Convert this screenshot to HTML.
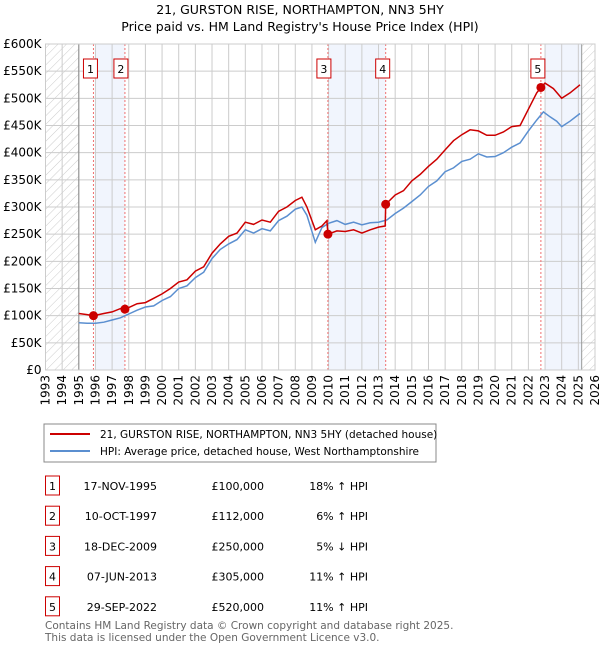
<!DOCTYPE html>
<html><head><meta charset="utf-8"><style>
body{margin:0;background:#fff;font-family:"DejaVu Sans","Liberation Sans",sans-serif;}
svg text{font-family:"DejaVu Sans","Liberation Sans",sans-serif;}
</style></head><body>
<svg id="c" width="600" height="650" xmlns="http://www.w3.org/2000/svg">
<defs><pattern id="hatch" width="6" height="6" patternUnits="userSpaceOnUse" patternTransform="rotate(45)"><line x1="0" y1="0" x2="0" y2="6" stroke="#ccc" stroke-width="1"/></pattern></defs>
<text x="300" y="14" text-anchor="middle" font-size="12.5" fill="#000">21, GURSTON RISE, NORTHAMPTON, NN3 5HY</text>
<text x="300" y="31" text-anchor="middle" font-size="12.5" fill="#000">Price paid vs. HM Land Registry's House Price Index (HPI)</text>
<g id="plot"></g>
<rect x="44" y="424" width="392" height="38" fill="#fff" stroke="#888"/>
<line x1="50" y1="434" x2="90" y2="434" stroke="#cc0000" stroke-width="2"/>
<text x="100" y="438" font-size="10.5">21, GURSTON RISE, NORTHAMPTON, NN3 5HY (detached house)</text>
<line x1="50" y1="451" x2="90" y2="451" stroke="#5b8fd0" stroke-width="2"/>
<text x="100" y="455" font-size="10.5">HPI: Average price, detached house, West Northamptonshire</text>
<g id="table"></g>
<text x="45" y="629" font-size="10.5" fill="#666">Contains HM Land Registry data © Crown copyright and database right 2025.</text>
<text x="45" y="641" font-size="10.5" fill="#666">This data is licensed under the Open Government Licence v3.0.</text>
</svg>
<script>
const yTicks=[0,50,100,150,200,250,300,350,400,450,500,550,600];
const yTickLabels=["£0","£50K","£100K","£150K","£200K","£250K","£300K","£350K","£400K","£450K","£500K","£550K","£600K"];
const xYears=[1993,1994,1995,1996,1997,1998,1999,2000,2001,2002,2003,2004,2005,2006,2007,2008,2009,2010,2011,2012,2013,2014,2015,2016,2017,2018,2019,2020,2021,2022,2023,2024,2025,2026];
const hpiX=[1995,1995.5,1996,1996.5,1997,1997.5,1998,1998.5,1999,1999.5,2000,2000.5,2001,2001.5,2002,2002.5,2003,2003.5,2004,2004.5,2005,2005.5,2006,2006.5,2007,2007.5,2008,2008.4,2008.7,2009.2,2009.6,2010,2010.5,2011,2011.5,2012,2012.5,2013,2013.5,2014,2014.5,2015,2015.5,2016,2016.5,2017,2017.5,2018,2018.5,2019,2019.5,2020,2020.5,2021,2021.5,2022,2022.5,2022.9,2023.3,2023.7,2024,2024.5,2025.1];
const hpiV=[87,86,86,88,92,96,103,110,116,118,128,135,150,155,170,180,205,222,232,240,258,252,260,256,275,283,296,300,285,235,262,270,275,268,272,267,271,272,276,288,298,310,322,338,348,365,372,384,388,398,392,393,400,410,418,440,460,475,466,458,448,458,472];
const ppX=[1995,1995.5,1995.88,1996.5,1997,1997.5,1997.77,1998,1998.5,1999,1999.5,2000,2000.5,2001,2001.5,2002,2002.5,2003,2003.5,2004,2004.5,2005,2005.5,2006,2006.5,2007,2007.5,2008,2008.4,2008.7,2009.2,2009.6,2009.9,2009.96,2010.5,2011,2011.5,2012,2012.5,2013,2013.4,2013.43,2014,2014.5,2015,2015.5,2016,2016.5,2017,2017.5,2018,2018.5,2019,2019.5,2020,2020.5,2021,2021.5,2022,2022.5,2022.75,2023,2023.5,2024,2024.5,2025.1];
const ppV=[104,102,100,104,107,113,112,115,122,124,132,140,150,162,166,182,190,215,232,246,252,272,268,276,272,292,300,312,318,300,258,265,275,250,256,255,258,252,258,263,265,305,322,330,348,360,375,388,405,422,433,442,440,432,432,438,448,450,480,510,520,528,518,500,510,525];
const saleX=[1995.88,1997.77,2009.96,2013.43,2022.75];
const saleV=[100,112,250,305,520];
const saleLabels=["1","2","3","4","5"];
const rowDates=["17-NOV-1995","10-OCT-1997","18-DEC-2009","07-JUN-2013","29-SEP-2022"];
const rowPrices=["£100,000","£112,000","£250,000","£305,000","£520,000"];
const rowHpi=["18% ↑ HPI","6% ↑ HPI","5% ↓ HPI","11% ↑ HPI","11% ↑ HPI"];
const X0=45.5,X1=595,Y0=370,Y1=44;
const sx=y=>X0+(y-1993)/(2026-1993)*(X1-X0);
const sy=v=>Y0-v/600*(Y0-Y1);
const NS="http://www.w3.org/2000/svg";
const plot=document.getElementById('plot');
function mk(tag,attrs,parent){const e=document.createElementNS(NS,tag);for(const k in attrs)e.setAttribute(k,attrs[k]);(parent||plot).appendChild(e);return e;}
let e=mk('rect',{x:X0,y:Y1,width:sx(1995)-X0,height:Y0-Y1,fill:'url(#hatch)'});


e=mk('rect',{x:sx(2025.2),y:Y1,width:X1-sx(2025.2),height:Y0-Y1,fill:'url(#hatch)'});


const shades=[[1996,1997.77],[2010,2013.43],[2023,2025.2]];
shades.forEach((s,i)=>{const r=mk('rect',{x:sx(s[0]),y:Y1,width:sx(s[1])-sx(s[0]),height:Y0-Y1,fill:'#eef3fc',opacity:0.8});

});
yTicks.forEach((t,i)=>{const l=mk('line',{x1:X0,x2:X1,y1:sy(t),y2:sy(t),stroke:'#ccc'});


const tx=mk('text',{x:X0-4,y:sy(t)+4,'text-anchor':'end','font-size':'12'});tx.textContent=yTickLabels[i];

});
xYears.forEach(yr=>{const l=mk('line',{x1:sx(yr),x2:sx(yr),y1:Y1,y2:Y0,stroke:'#ccc'});


const tx=mk('text',{x:0,y:0,'text-anchor':'end','font-size':'12',transform:`translate(${sx(yr)+4},${Y0+5}) rotate(-90)`});tx.textContent=yr;

});
e=mk('line',{x1:sx(1995),x2:sx(1995),y1:Y1,y2:Y0,stroke:'#888'});


e=mk('line',{x1:sx(2025.2),x2:sx(2025.2),y1:Y1,y2:Y0,stroke:'#999'});


saleX.forEach((sxv,i)=>{const l=mk('line',{x1:sx(sxv),x2:sx(sxv),y1:Y1,y2:Y0,stroke:'#f07070','stroke-dasharray':'2,2'});

});
const pts=(xs,vs)=>xs.map((x,i)=>sx(x).toFixed(1)+','+sy(vs[i]).toFixed(1)).join(' ');
e=mk('polyline',{points:pts(hpiX,hpiV),fill:'none',stroke:'#5b8fd0','stroke-width':1.5});


e=mk('polyline',{points:pts(ppX,ppV),fill:'none',stroke:'#cc0000','stroke-width':1.5});


const boxOffsets=[-3,-4,-4,-3,-3];
saleX.forEach((sxv,i)=>{const c=mk('circle',{cx:sx(sxv),cy:sy(saleV[i]),r:4.5,fill:'#cc0000'});


const b=mk('rect',{x:sx(sxv)-7+boxOffsets[i],y:59,width:14,height:19,fill:'#fff',stroke:'#cc0000'});


const t=mk('text',{x:sx(sxv)+boxOffsets[i],y:73,'text-anchor':'middle','font-size':'11'});t.textContent=saleLabels[i];

});
e=mk('rect',{x:X0,y:Y1,width:X1-X0,height:Y0-Y1,fill:'none',stroke:'#ccc'});


const tbl=document.getElementById('table');
rowDates.forEach((d,i)=>{const y=486+i*30.2;
const b=mk('rect',{x:45.5,y:y-10,width:14,height:19,fill:'#fff',stroke:'#cc0000'},tbl);


let t=mk('text',{x:52.5,y:y+4,'text-anchor':'middle','font-size':'11'},tbl);t.textContent=saleLabels[i];


t=mk('text',{x:157,y:y+4,'text-anchor':'end','font-size':'11'},tbl);t.textContent=d;


t=mk('text',{x:264,y:y+4,'text-anchor':'end','font-size':'11'},tbl);t.textContent=rowPrices[i];


t=mk('text',{x:368,y:y+4,'text-anchor':'end','font-size':'11'},tbl);t.textContent=rowHpi[i];

});
</script>
</body></html>
